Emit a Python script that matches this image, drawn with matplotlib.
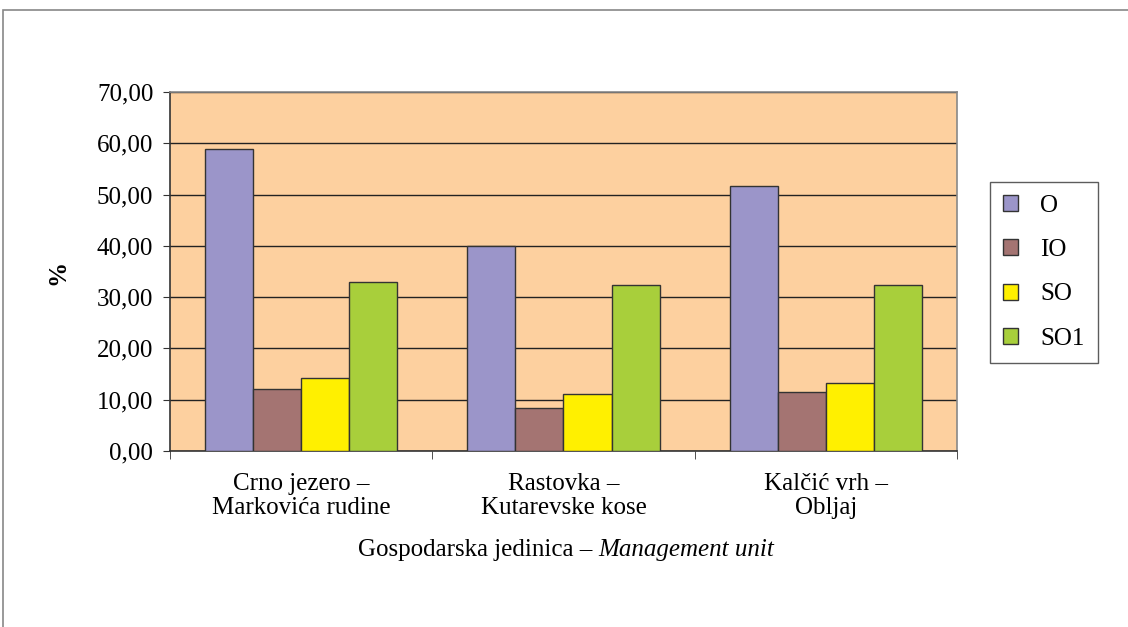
import numpy as np
import matplotlib
matplotlib.use("Agg")
import matplotlib.pyplot as plt
from matplotlib.patches import Rectangle
from matplotlib.ticker import FuncFormatter

plt.rcParams['font.family'] = ['Liberation Serif', 'DejaVu Serif']

# data
units = ['Crno jezero –\nMarkovića rudine', 'Rastovka –\nKutarevske kose', 'Kalčić vrh –\nObljaj']
series = ['O', 'IO', 'SO', 'SO1']
val_O = [58.8, 40.0, 51.6]
val_IO = [12.0, 8.3, 11.6]
val_SO = [14.2, 11.2, 13.2]
val_SO1 = [32.9, 32.4, 32.4]
colors = ['#9B95C9', '#A47472', '#FFF000', '#A8CF3B']

W, H = 1128, 627
fig = plt.figure(figsize=(11.28, 6.27), dpi=100)
# outer frame
fig.patches.append(Rectangle((3 / W, -0.05), 1.2, 1.05 - 10 / H, transform=fig.transFigure,
                             fill=False, edgecolor='#888888', lw=1.2))
ax = fig.add_axes([170 / W, 1 - 451 / H, (957 - 170) / W, (451 - 92) / H])
ax.set_facecolor('#FDD09F')

x = np.arange(len(units))
w = 0.183
for k, vals in enumerate([val_O, val_IO, val_SO, val_SO1]):
    ax.bar(x + (k - 1.5) * w, vals, w, color=colors[k], edgecolor='#333333',
           linewidth=1.0, label=series[k], zorder=3)

ax.set_xlim(-0.5, 2.5)
ax.set_ylim(0, 70)
ax.set_yticks(np.arange(0, 71, 10))
ax.yaxis.set_major_formatter(FuncFormatter(lambda v, p: f'{v:.2f}'.replace('.', ',')))
ax.grid(axis='y', color='#222222', lw=1.0, zorder=1)
ax.set_axisbelow(True)
ax.tick_params(axis='y', direction='out', length=5, pad=7, labelsize=18, color='#333333')

ax.set_xticks(x)
ax.set_xticklabels(units, fontsize=18, linespacing=1.1)
ax.set_xticks([-0.5, 0.5, 1.5, 2.5], minor=True)
ax.tick_params(axis='x', which='major', length=0, pad=16)
ax.tick_params(axis='x', which='minor', length=6, direction='out', color='#333333')

for s in ['top', 'right']:
    ax.spines[s].set_color('#888888')
    ax.spines[s].set_linewidth(1.2)
for s in ['left', 'bottom']:
    ax.spines[s].set_color('#333333')
    ax.spines[s].set_linewidth(1.2)

fig.text(58 / W, 1 - 272 / H, '%', rotation=90, fontsize=18, fontweight='bold',
         ha='center', va='center')

fig.text(592 / W, 1 - 550 / H, 'Gospodarska jedinica –', fontsize=18, ha='right', va='center')
fig.text(598 / W, 1 - 550 / H, 'Management unit', fontsize=18, style='italic', ha='left', va='center')

leg = ax.legend(loc='upper left', bbox_to_anchor=(990 / W, 1 - 362 / H, 108 / W, 180 / H),
                bbox_transform=fig.transFigure, mode='expand', fontsize=18, frameon=True,
                fancybox=False, edgecolor='#333333', handlelength=0.6, handleheight=0.6,
                labelspacing=0.9, borderpad=0.5, handletextpad=0.9, borderaxespad=0)
leg.get_frame().set_linewidth(1.0)

fig.savefig('out.png', dpi=100)
